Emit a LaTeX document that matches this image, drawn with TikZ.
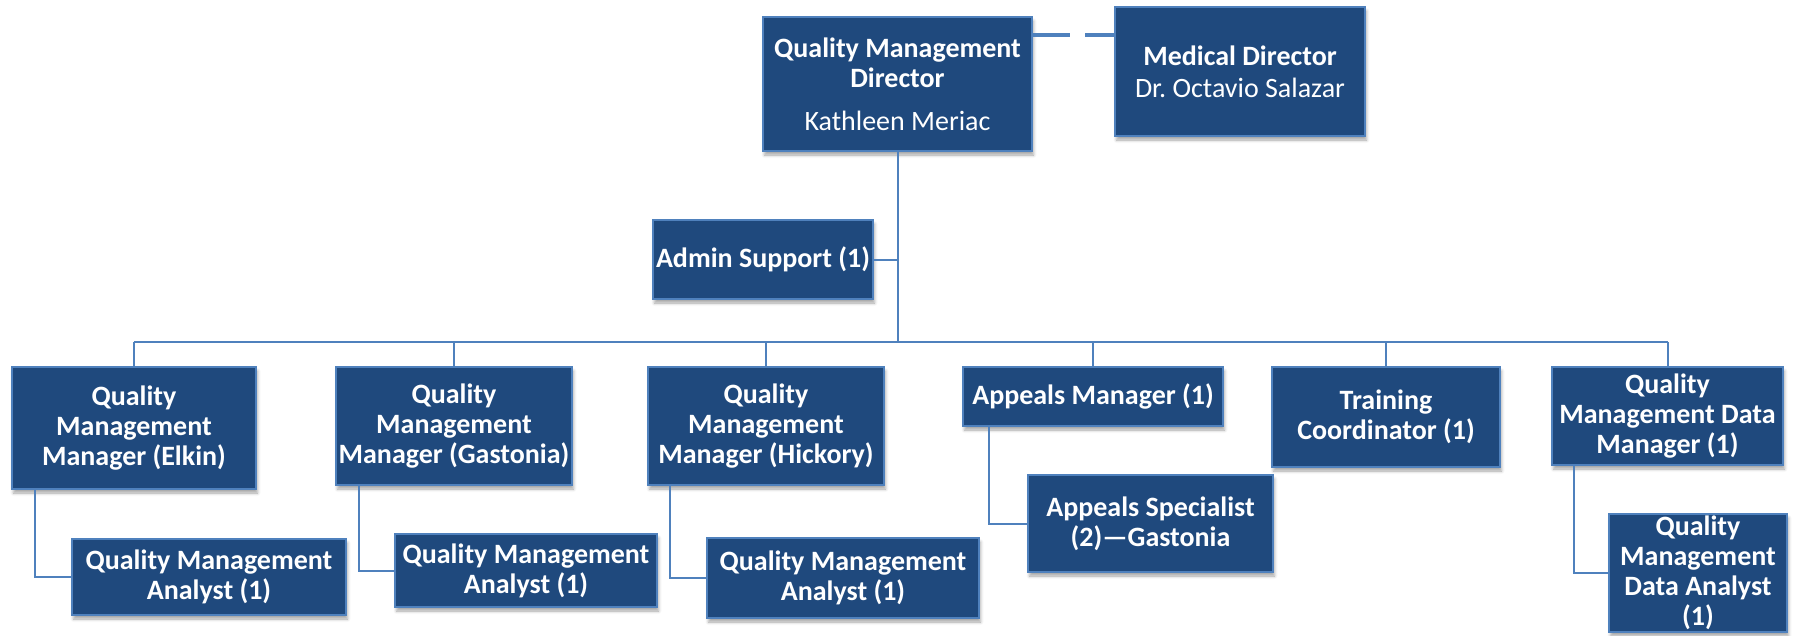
\documentclass[tikz,border=0pt]{standalone}
\usepackage{fontspec}
\setmainfont{Carlito}
\usetikzlibrary{shadows.blur,calc}
\definecolor{boxfill}{RGB}{31,73,125}
\definecolor{boxline}{RGB}{79,129,189}
\frenchspacing
\begin{document}
\begin{tikzpicture}[x=1pt,y=-1pt,
  orgbox/.style={draw=boxline, line width=2pt, fill=boxfill, text=white,
    font=\bfseries\fontsize{28}{30}\selectfont, align=center, inner sep=0pt,
    blur shadow={shadow xshift=1.5pt, shadow yshift=-4pt, shadow opacity=35, shadow blur radius=3pt}},
  conn/.style={draw=boxline, line width=2pt},
  dashconn/.style={draw=boxline, line width=4pt, dash pattern=on 37pt off 15pt}]
\useasboundingbox (0,0) rectangle (1796,635);

% nodes
\node[orgbox, minimum width=269pt, minimum height=134pt] (dir) at (897.5,84)
  {Quality Management\\Director\\[13pt]{\mdseries Kathleen Meriac}};
\node[orgbox, minimum width=250pt, minimum height=129pt] (med) at (1240,71.5)
  {Medical Director\\[2pt]{\mdseries Dr.\ Octavio Salazar}};
\node[orgbox, minimum width=220pt, minimum height=79pt] (admin) at (763,259.5)
  {Admin Support (1)};

\node[orgbox, minimum width=244pt, minimum height=122pt] (elkin) at (134,428)
  {Quality\\Management\\Manager (Elkin)};
\node[orgbox, minimum width=236pt, minimum height=118pt] (gast) at (454,426)
  {Quality\\Management\\Manager (Gastonia)};
\node[orgbox, minimum width=236pt, minimum height=118pt] (hick) at (766,426)
  {Quality\\Management\\Manager (Hickory)};
\node[orgbox, minimum width=260pt, minimum height=59pt] (appm) at (1093,396.5)
  {Appeals Manager (1)};
\node[orgbox, minimum width=228pt, minimum height=100pt] (train) at (1386,417)
  {Training\\Coordinator (1)};
\node[orgbox, minimum width=231pt, minimum height=98pt] (dmgr) at (1667.5,416)
  {Quality\\Management Data\\Manager (1)};

\node[orgbox, minimum width=274pt, minimum height=76pt] (ea) at (209,577)
  {Quality Management\\Analyst (1)};
\node[orgbox, minimum width=262pt, minimum height=73pt] (ga) at (526,570.5)
  {Quality Management\\Analyst (1)};
\node[orgbox, minimum width=272pt, minimum height=80pt] (ha) at (843,578)
  {Quality Management\\Analyst (1)};
\node[orgbox, minimum width=245pt, minimum height=97pt] (aps) at (1150.5,523.5)
  {Appeals Specialist\\(2)—Gastonia};
\node[orgbox, minimum width=178pt, minimum height=118pt] (da) at (1698,573)
  {Quality\\Management\\Data Analyst\\(1)};

% connectors
\coordinate (bus) at (0,342);
\draw[dashconn] ([yshift=-19pt]dir.north east) -- ([yshift=-29pt]med.north west);
\draw[conn] (dir.south) -- (dir.south |- bus);
\draw[conn] (admin.east) -- (admin.east -| dir.south);
\draw[conn] (elkin.north |- bus) -- (dmgr.north |- bus);
\foreach \n in {elkin,gast,hick,appm,train,dmgr}
  \draw[conn] (\n.north |- bus) -- (\n.north);
\draw[conn] ([xshift=24pt]elkin.south west) |- (ea.west);
\draw[conn] ([xshift=24pt]gast.south west) |- (ga.west);
\draw[conn] ([xshift=23pt]hick.south west) |- (ha.west);
\draw[conn] ([xshift=27pt]appm.south west) |- (aps.west);
\draw[conn] ([xshift=23pt]dmgr.south west) |- (da.west);
\end{tikzpicture}
\end{document}
